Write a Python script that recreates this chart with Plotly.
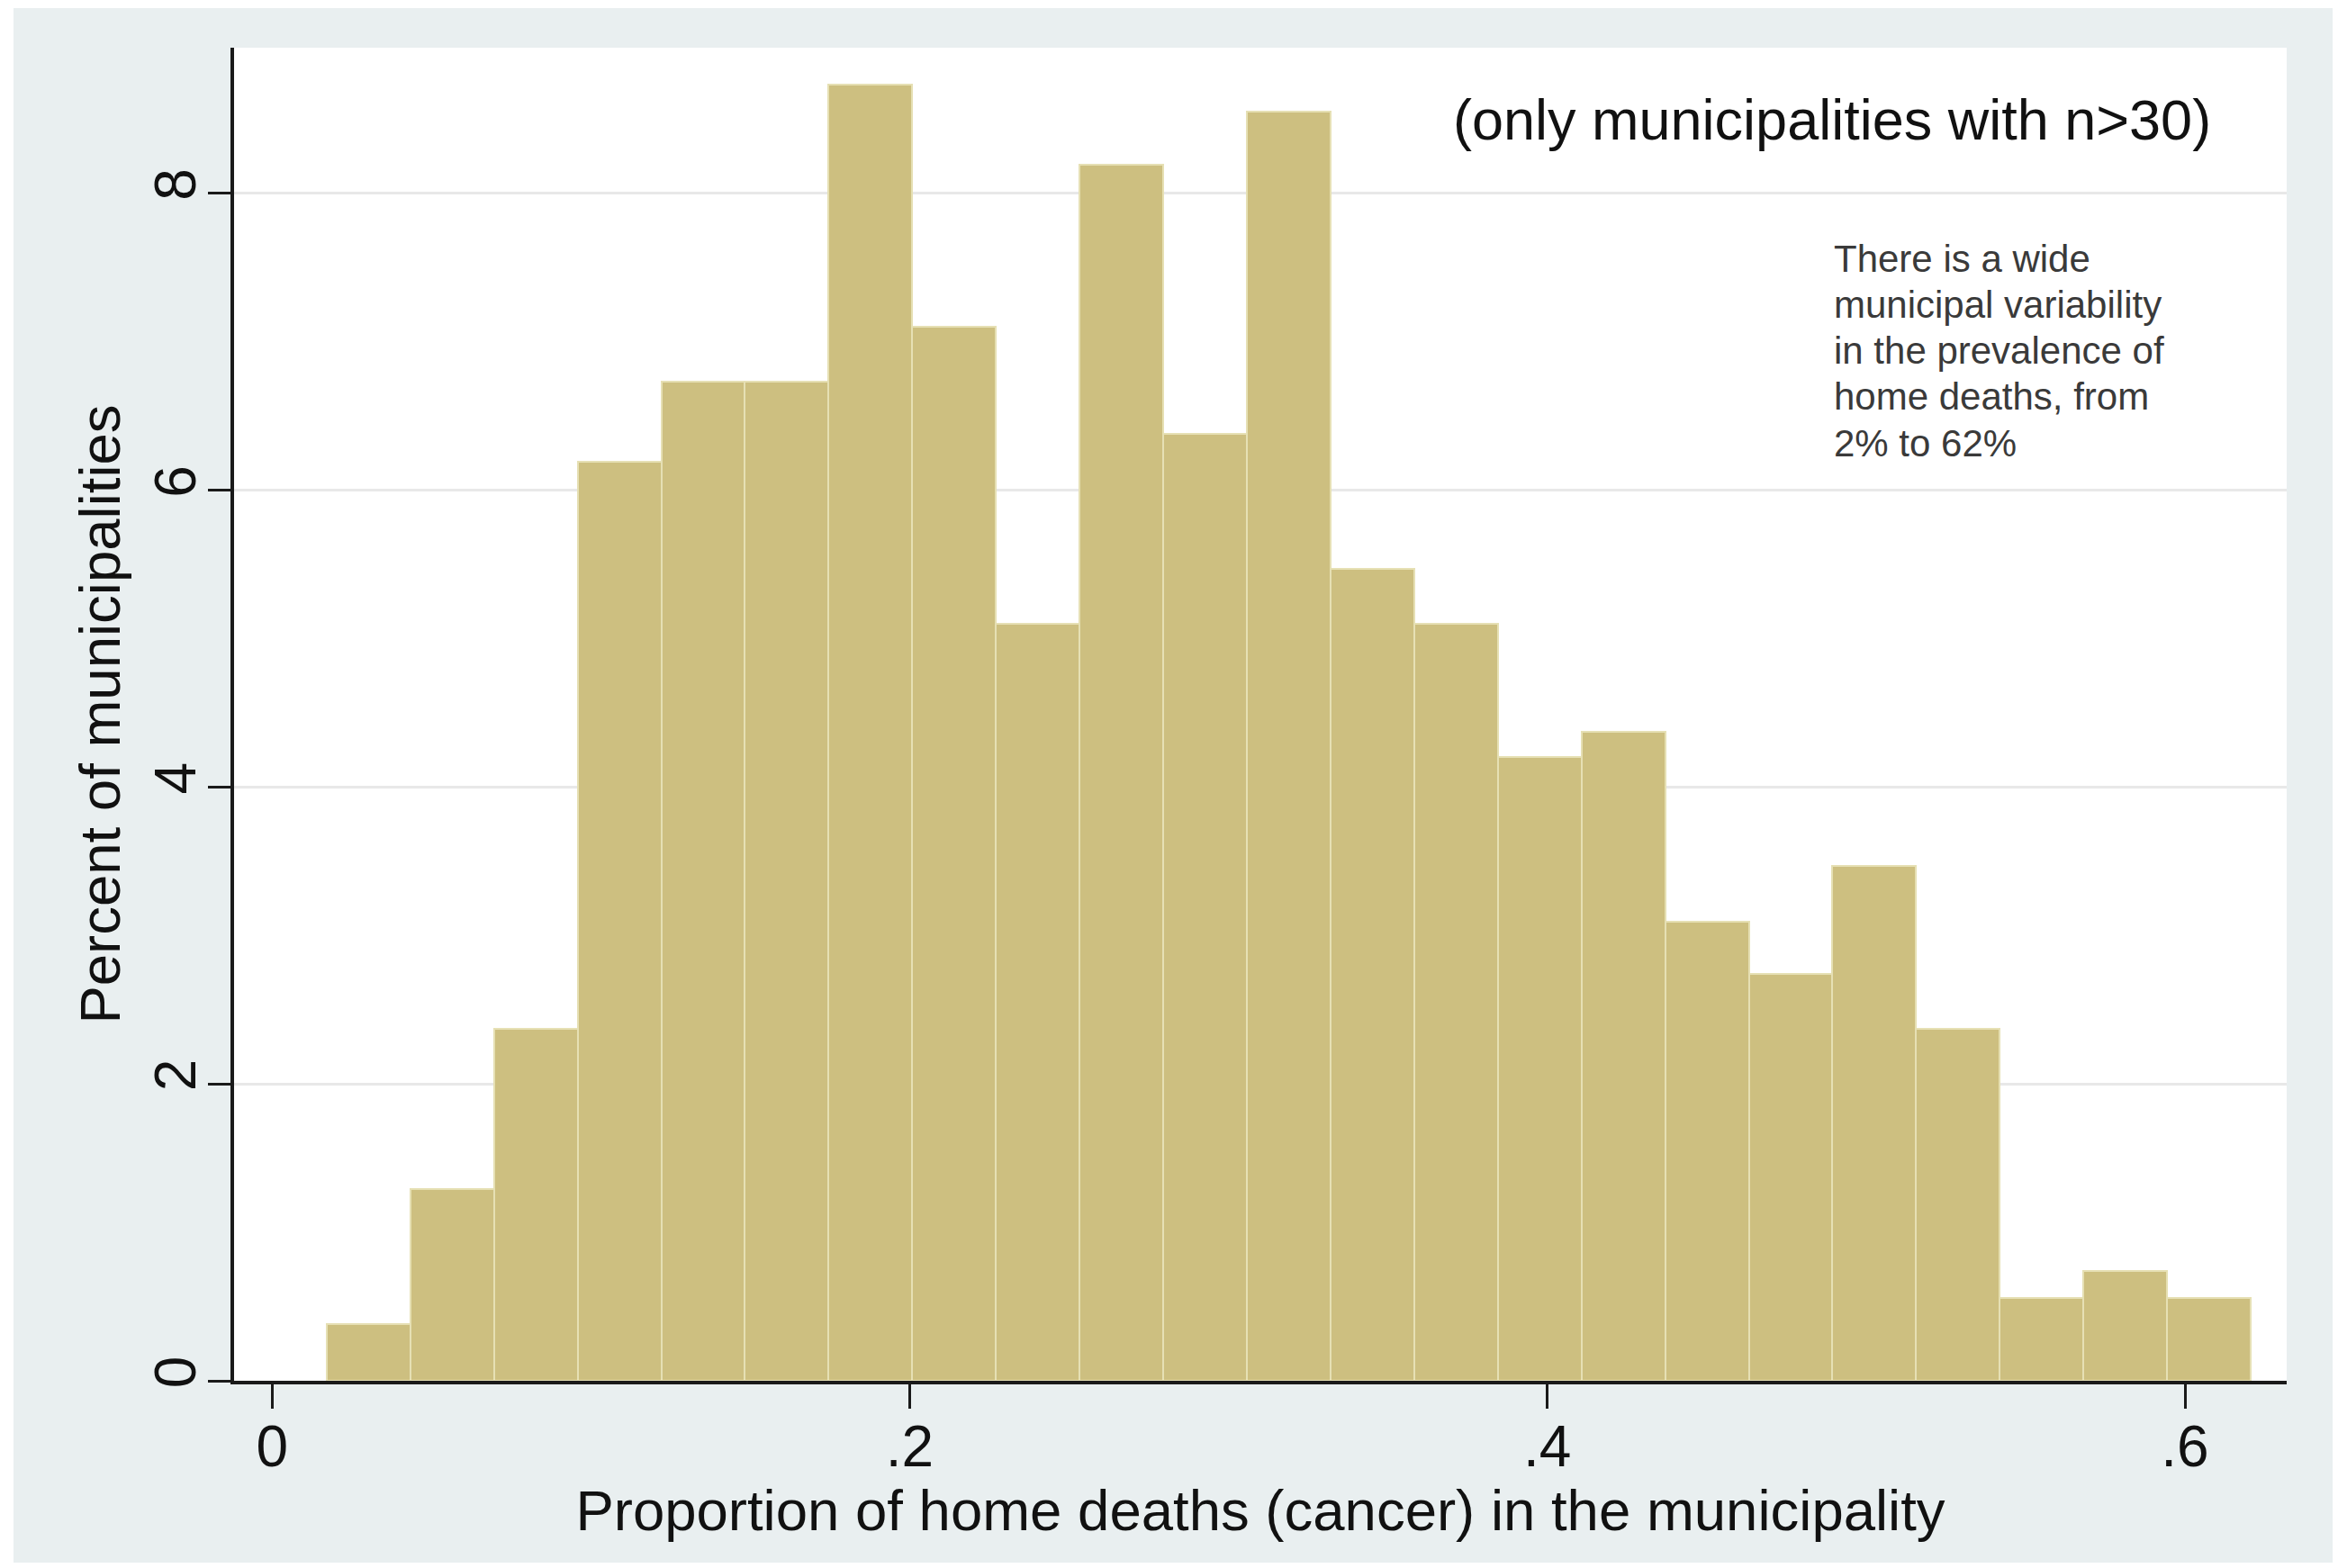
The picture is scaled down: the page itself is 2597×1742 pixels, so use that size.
import plotly.graph_objects as go

# Histogram of the share of cancer deaths that happened at home, by municipality
bin_start = 0.0171          # lower edge of the first bin
bin_width = 0.02624         # common bin width
percent = [0.38, 1.29, 2.37, 6.19, 6.73, 6.73, 8.73, 7.10, 5.10, 8.19, 6.38, 8.55,
           5.47, 5.10, 4.20, 4.37, 3.09, 2.74, 3.47, 2.37, 0.56, 0.74, 0.56]

x_tick_vals = [0, 0.2, 0.4, 0.6]
x_tick_text = ["0", ".2", ".4", ".6"]
y_tick_vals = [0, 2, 4, 6, 8]
y_tick_text = ["0", "2", "4", "6", "8"]

header_note = "(only municipalities with n>30)"
side_note = ["There is a wide", "municipal variability", "in the prevalence of",
             "home deaths, from", "2% to 62%"]

x_title = "Proportion of home deaths (cancer) in the municipality"
y_title = "Percent of municipalities"

bin_centers = [bin_start + (i + 0.5) * bin_width for i in range(len(percent))]

FONT = "Liberation Sans, Arial, Helvetica, sans-serif"
W, H = 2597, 1742
ML, MR, MT, MB = 260, 57, 53, 208
PW, PH = W - ML - MR, H - MT - MB

fig = go.Figure()
fig.add_trace(go.Bar(
    x=bin_centers,
    y=percent,
    width=bin_width,
    marker=dict(color="#cdbf80", line=dict(color="#e6e0b4", width=2)),
    showlegend=False,
    hoverinfo="x+y",
))


def px_x(px):
    return (px - ML) / PW


def px_y(py):
    return (H - MB - py) / PH


# white frame around the light graph region
white_strips = [
    (px_x(0), px_x(15), px_y(H), px_y(0)),
    (px_x(0), px_x(W), px_y(9), px_y(0)),
    (px_x(W - 6), px_x(W), px_y(H), px_y(0)),
    (px_x(0), px_x(W), px_y(H), px_y(H - 6)),
]
shapes = [dict(type="rect", xref="paper", yref="paper", x0=a, x1=b, y0=c, y1=d,
               fillcolor="white", line=dict(width=0), layer="below")
          for a, b, c, d in white_strips]

annotations = [dict(
    text=header_note, xref="paper", yref="paper",
    x=px_x(2458), y=px_y(133), xanchor="right", yanchor="middle",
    showarrow=False, font=dict(family=FONT, size=63, color="#111111"),
)]
for i, line in enumerate(side_note):
    annotations.append(dict(
        text=line, xref="paper", yref="paper",
        x=px_x(2035), y=px_y(287 + i * 51.3), xanchor="left", yanchor="middle",
        showarrow=False, font=dict(family=FONT, size=42, color="#3a3a3a"),
    ))

fig.update_layout(
    width=W, height=H,
    margin=dict(l=ML, r=MR, t=MT, b=MB, pad=0),
    paper_bgcolor="#e9eff0",
    plot_bgcolor="white",
    bargap=0,
    font=dict(family=FONT, color="#111111"),
    shapes=shapes,
    annotations=annotations,
    xaxis=dict(
        range=[-0.01194, 0.6319],
        tickvals=x_tick_vals, ticktext=x_tick_text,
        ticks="outside", ticklen=27, tickwidth=3, tickcolor="#1a1a1a",
        ticklabelstandoff=-13,
        tickfont=dict(family=FONT, size=64, color="#111111"),
        showline=True, linecolor="#1a1a1a", linewidth=4,
        showgrid=False, zeroline=False,
        title=dict(text=x_title, font=dict(family=FONT, size=63.5, color="#111111"),
                   standoff=4),
    ),
    yaxis=dict(
        range=[0, 8.98],
        tickvals=y_tick_vals, ticktext=y_tick_text, tickangle=-90,
        ticks="outside", ticklen=25, tickwidth=3, tickcolor="#1a1a1a",
        ticklabelstandoff=-12,
        tickfont=dict(family=FONT, size=64, color="#111111"),
        showline=True, linecolor="#1a1a1a", linewidth=4,
        showgrid=True, gridcolor="#e8e8e8", gridwidth=3, zeroline=False,
        title=dict(text=y_title, font=dict(family=FONT, size=63.5, color="#111111"),
                   standoff=6),
    ),
)

fig.write_html("out.html")
